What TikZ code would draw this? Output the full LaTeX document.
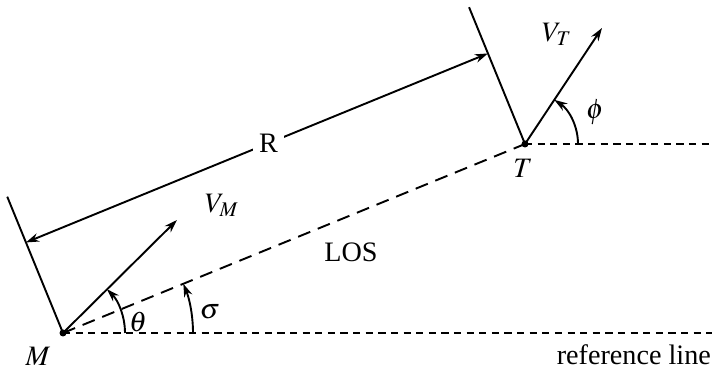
\documentclass[tikz,border=0pt,12pt]{standalone}
\usepackage{mathptmx}
\usepackage{fontspec}
\setmainfont{Liberation Serif}
\usetikzlibrary{arrows.meta,calc}

\begin{document}
\begin{tikzpicture}[
  x=0.444pt, y=0.444pt,
  font=\fontsize{12.5}{15}\selectfont,
  line width=0.85pt,
  tip/.style={-{Stealth[length=5.8pt,width=3.8pt]}},
  los/.style={dash pattern=on 5.8pt off 3.6pt},
  refl/.style={dash pattern=on 3.2pt off 2.4pt},
  lbl/.style={inner sep=1pt},
]
\useasboundingbox (0,0) rectangle (714,373);

% Missile and target
\coordinate (M) at (63,40);
\coordinate (T) at (525,229);
\coordinate (Mref) at (712,40);
\coordinate (Tref) at (712,229);
\fill (M) circle (3.5);
\fill (T) circle (3.5);
\node[lbl] (mlbl) at (38,17) {$M$};
\node[lbl] (tlbl) at (523,205) {$T$};

% reference lines and LOS
\draw[refl] (M) -- (Mref);
\draw[refl] (T) -- (Tref);
\draw[los] (M) -- (T);
\node[lbl] (loslbl) at (351,121) {LOS};
\node[lbl, anchor=east] (reflbl) at (714,18) {reference line};

% range R
\coordinate (Mp) at ($(M)!0.295!90:(T)$);
\coordinate (Tp) at ($(T)!0.296!-90:(M)$);
\coordinate (Ma) at ($(M)!0.196!90:(T)$);
\coordinate (Ta) at ($(T)!0.196!-90:(M)$);
\draw (M) -- (Mp);
\draw (T) -- (Tp);
\draw[{Stealth[length=5.8pt,width=3.8pt]}-{Stealth[length=5.8pt,width=3.8pt]}]
  (Ma) -- node[fill=white, pos=0.525, inner sep=2.5pt] (rlbl) {R} (Ta);

% velocities
\coordinate (VM) at (177,153);
\coordinate (VT) at (602,345);
\draw[tip] (M) -- (VM);
\draw[tip] (T) -- (VT);
\node[lbl] (vmlbl) at (222,168) {$V_M$};
\node[lbl] (vtlbl) at (557,339) {$V_T$};

% angles
\draw[tip] ($(M)+(62,0)$) arc[start angle=0, end angle=45, radius=62];
\draw[tip] ($(M)+(130,0)$) arc[start angle=0, end angle=22.25, radius=130];
\draw[tip] ($(T)+(53,0)$) arc[start angle=0, end angle=56.4, radius=53];
\node[lbl] (thlbl) at (138,51) {$\theta$};
\node[lbl] (sglbl) at (210,61) {$\sigma$};
\node[lbl] (phlbl) at (595,261) {$\phi$};
\end{tikzpicture}
\end{document}
